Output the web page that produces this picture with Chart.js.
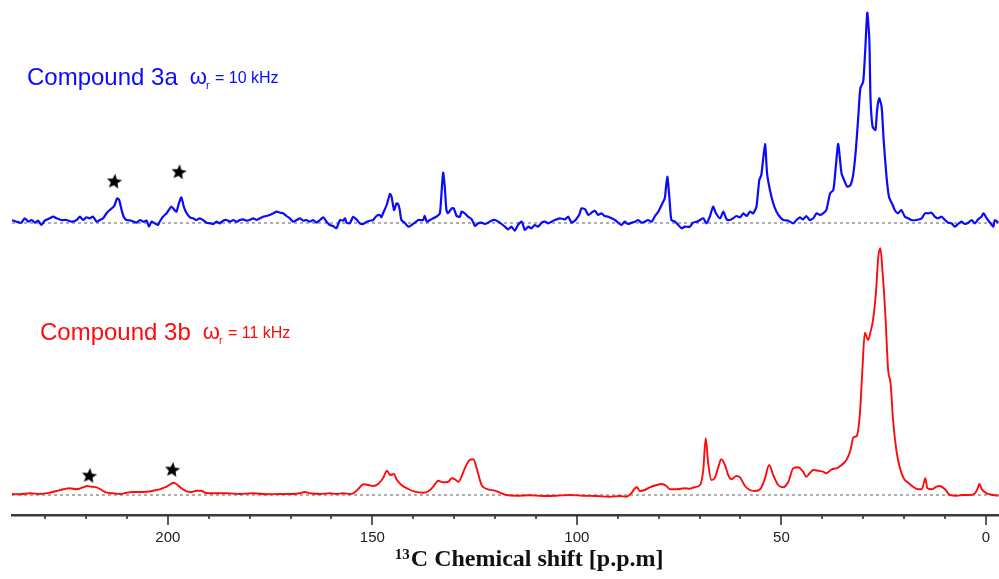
<!DOCTYPE html>
<html>
<head>
<meta charset="utf-8">
<title>13C CP-MAS spectra</title>
<script src="https://cdn.jsdelivr.net/npm/chart.js@4.4.1/dist/chart.umd.min.js"></script>
<style>
    html, body { margin: 0; padding: 0; background: #ffffff; }
    #spectra { display: block; }
</style>
</head>
<body>
<canvas id="spectra" width="999" height="579"></canvas>
<script>
// chemical shift range shown on the axis (ppm, drawn high -> low)
const shiftMin = -3.2;
const shiftMax = 238.1;
const labelledShifts = [200, 150, 100, 50, 0];

// [shift ppm, intensity a.u.] for compound 3a, spinning at 10 kHz
const spectrum3a = [
    [238.2, 3], [237.0, 1.3], [235.8, 0.3], [235.0, 4.7], [234.1, 1.3], [233.3, 3], [232.5, 0.3], [231.7, 2.3],
    [230.9, -2], [230.1, 2.3], [228.9, 4.7], [228.0, 6.3], [227.2, 4.7], [226.0, 3], [224.8, 3], [223.5, 1.3],
    [222.3, 3], [221.5, 6.3], [220.7, 3], [219.9, 5.7], [219.1, 4.7], [218.3, 6.3], [217.4, 1.3], [216.6, 3],
    [215.8, 4.7], [215.0, 9.7], [214.2, 13], [213.4, 15.7], [213.0, 18], [212.4, 24.7], [211.9, 23], [211.3, 13],
    [210.8, 6.3], [210.1, 3], [208.9, 2.3], [207.7, 0.3], [206.8, 3], [206.0, 1.3], [205.2, 2.3], [204.6, -3.7],
    [204.0, 1.3], [203.2, -0.3], [202.4, -2], [202.0, 1.3], [201.2, 6.3], [200.3, 9.7], [199.5, 14.7], [199.1, 16.3],
    [198.5, 13.7], [197.9, 11.3], [197.3, 19.7], [196.7, 25.7], [196.1, 16.3], [195.4, 9.7], [194.6, 5.7], [193.8, 4.7],
    [193.0, 3], [192.2, 4.7], [191.4, 3], [190.5, 0.3], [189.7, -0.3], [188.9, -1], [188.1, 1.3], [187.3, -0.3],
    [186.5, 2.3], [185.7, 3], [184.8, 1.3], [184.0, 3], [183.2, 1.3], [182.4, 3], [181.6, 3.7], [180.8, 2.3],
    [180.0, 3], [179.1, 4.7], [178.3, 3], [177.5, 4.7], [176.7, 6.3], [175.9, 7], [175.1, 8], [174.2, 9.7],
    [173.4, 11.3], [172.6, 10.3], [171.8, 9.7], [171.0, 7], [170.2, 4.7], [169.4, 1.3], [168.5, 3], [167.7, 4.7],
    [166.9, 2.3], [166.1, 3], [165.3, 1.3], [164.5, 3], [163.7, 0.3], [162.8, 3], [162.0, 5.7], [161.2, 1.3],
    [160.4, -2], [159.6, -3], [158.8, -5.3], [157.9, 3], [157.1, 2.3], [156.7, 4.7], [156.3, 0.3], [155.5, -0.3],
    [154.7, 6.3], [153.9, 3.7], [153.1, -0.3], [152.2, -1], [151.4, 1.3], [150.6, 2.3], [149.8, 3], [149.0, 7],
    [148.2, 8], [147.8, 5.7], [147.4, 9.7], [146.5, 18], [145.7, 29], [145.3, 26.3], [144.7, 13], [144.1, 19.7],
    [143.7, 19], [143.3, 13], [142.9, 3], [142.1, 0.3], [141.2, -3.7], [140.4, -2], [139.6, 0.3], [138.8, 3],
    [137.6, 3], [137.2, 7], [136.7, 1.3], [135.9, 3], [135.1, 4.7], [134.3, 6.3], [133.5, 9.7], [133.1, 29.7],
    [132.7, 50.3], [132.3, 36.3], [131.9, 13], [131.5, 9.7], [130.6, 14.7], [130.1, 14.7], [129.4, 7], [128.6, 6.3],
    [128.2, 11.3], [127.4, 9.7], [126.6, 6.3], [125.7, 3.7], [124.9, -3], [124.1, -0.3], [123.3, 0.3], [122.5, -1],
    [121.7, 0.3], [120.9, 2.3], [120.0, 3], [119.2, 1.3], [118.4, -1], [117.6, -3.7], [116.8, -6.3], [116.0, -3.7],
    [115.2, -7.7], [114.4, -2], [113.5, 1.3], [112.7, -7], [111.9, -3.7], [111.1, -5.3], [110.3, -2], [109.5, -3.7],
    [108.6, 0.3], [107.8, 1.3], [107.0, -0.3], [106.2, 1.3], [105.4, 3], [104.2, 4.7], [102.9, 3.7], [102.1, 6.3],
    [101.3, 0.3], [100.5, 2.3], [99.7, 6.3], [99.3, 9.7], [98.9, 14.7], [98.0, 13.7], [97.2, 8], [96.4, 10.3],
    [95.6, 12.3], [94.8, 8], [94.0, 9.7], [93.2, 7], [92.3, 6.3], [91.5, 4.7], [90.7, 3], [89.9, 0.3],
    [89.1, -2], [88.3, 1.3], [87.5, -1], [86.6, 0.3], [85.8, 1.3], [85.0, 3], [84.2, 0.3], [83.4, 1.3],
    [82.6, 3], [81.7, 1.3], [80.9, 7], [80.1, 11.3], [78.9, 21.3], [78.5, 24.7], [77.9, 46.3], [77.4, 26.3],
    [76.9, 3], [76.0, 1.3], [75.2, -2], [74.4, -5.3], [73.6, -3.7], [72.4, -3.7], [71.6, 0.3], [70.7, 1.3],
    [69.9, 3], [69.1, 4.7], [68.3, -0.3], [67.5, 6.3], [66.7, 16.3], [66.0, 9.7], [65.0, 4.7], [64.2, 11.3],
    [63.4, 3.7], [62.6, 3], [61.8, 4.7], [61.0, 7], [60.1, 5.7], [59.3, 9.7], [58.5, 7], [57.7, 11.3],
    [56.9, 9.7], [56.1, 16.3], [55.4, 43], [54.9, 48], [54.0, 79], [53.5, 49.7], [52.8, 33], [52.0, 19.7],
    [51.2, 11.3], [50.4, 6.3], [49.5, 3], [48.3, 2.3], [47.1, -0.3], [46.3, 3], [45.5, 5.7], [44.7, 3.7],
    [43.9, 7], [43.1, 3], [42.2, 4.7], [41.4, 9.7], [40.6, 8], [39.8, 9.7], [39.0, 13], [38.1, 29.7],
    [37.3, 33], [36.7, 56.3], [36.1, 79], [35.3, 49.7], [34.5, 41.3], [33.9, 36.3], [33.1, 38], [32.4, 49.7],
    [31.8, 73], [31.2, 106.3], [30.7, 134.7], [30.0, 141.3], [29.5, 173], [29.0, 210.3], [28.5, 183], [28.2, 123],
    [27.7, 96.3], [27.0, 93], [26.6, 113], [26.1, 124.7], [25.5, 116.3], [25.0, 83], [24.3, 46.3], [23.7, 26.3],
    [22.8, 18], [22.3, 13], [21.5, 9.7], [20.7, 13], [19.8, 6.3], [19.0, 4.7], [18.2, 3], [17.0, 3],
    [15.7, 4.7], [14.9, 9.7], [14.1, 9.7], [13.3, 10.3], [12.5, 6.3], [11.7, 4.7], [10.8, 6.3], [10.0, 3],
    [9.2, 0.3], [8.4, -0.3], [7.6, -3.7], [6.8, -1], [6.0, 1.3], [5.1, -1], [4.3, 0.3], [3.5, 3],
    [2.7, -0.3], [1.9, 3.7], [1.1, 6.3], [0.6, 9.7], [-0.2, 4.7], [-1.0, 0.3], [-1.8, -3.7], [-2.2, 3],
    [-3.0, 0.3]
];

// [shift ppm, intensity a.u.] for compound 3b, spinning at 11 kHz
const spectrum3b = [
    [238.2, 1], [236.2, 0.7], [233.7, 1.7], [231.3, 1], [228.9, 2.3], [227.2, 4], [225.6, 5.7], [224.0, 6.7],
    [222.3, 5.7], [220.7, 7.7], [219.7, 9], [218.7, 8.3], [217.4, 7.7], [216.2, 5], [215.0, 2.3], [213.4, 1.7],
    [211.7, 1], [210.1, 2.3], [208.5, 3], [206.8, 3], [205.2, 3.3], [203.6, 4.3], [202.0, 5.7], [200.3, 8.3],
    [199.4, 10.7], [198.7, 12.3], [197.9, 11], [196.7, 6.7], [195.4, 3.7], [194.2, 3], [193.0, 4.3], [191.8, 4.3],
    [190.9, 2.3], [188.9, 1.7], [185.7, 1.7], [182.4, 1], [179.1, 1.7], [175.9, 0.7], [172.6, 1], [169.4, 1],
    [167.7, 1.7], [166.5, 3], [165.3, 1.7], [162.8, 1], [160.4, 1.7], [158.8, 1], [157.1, 1.7], [155.5, 1],
    [154.7, 1.7], [153.5, 5.7], [152.2, 10.7], [151.0, 10], [149.8, 9], [148.6, 11], [147.4, 16.7], [146.4, 24.3],
    [145.7, 20], [144.7, 21], [144.1, 15.7], [142.9, 10], [141.2, 6], [139.6, 3.3], [137.6, 2.3], [136.3, 3.7],
    [135.1, 8.3], [133.9, 14.3], [132.7, 12.7], [131.5, 13], [130.6, 16.7], [129.8, 15.7], [129.0, 13.3], [128.2, 18.3],
    [127.4, 26.7], [126.2, 35], [125.3, 35.7], [124.5, 26.7], [123.3, 10], [121.7, 5.7], [120.0, 4.3], [118.8, 2.3],
    [117.2, 0], [114.8, -0.7], [111.5, -0.3], [108.3, -1], [105.0, -0.7], [101.7, 0], [98.5, -0.7], [95.2, -1],
    [92.0, -1.7], [89.5, -1], [87.9, -1.7], [86.7, 1.7], [85.8, 6.7], [85.3, 7.7], [84.6, 4], [83.4, 5],
    [82.2, 7.7], [80.5, 10], [79.3, 11], [78.1, 9], [77.3, 5.7], [75.6, 5.7], [73.6, 6.7], [72.4, 6.3],
    [71.2, 7.7], [69.9, 10], [69.1, 25], [68.5, 56.7], [67.9, 31.7], [67.1, 15], [66.3, 16.7], [65.5, 26.7],
    [64.7, 35.7], [63.8, 30], [63.0, 20], [62.2, 15.7], [61.0, 19], [60.1, 17.7], [58.9, 9], [57.7, 5],
    [56.5, 4], [55.2, 5.7], [54.0, 16.7], [53.0, 30], [52.0, 20], [50.8, 10], [49.6, 7.7], [48.3, 13.3],
    [47.1, 26.7], [45.9, 27.7], [44.7, 23.3], [43.9, 18.3], [43.1, 21.7], [42.2, 25], [41.0, 24.3], [39.8, 23.3],
    [39.0, 21.7], [37.7, 25.7], [36.5, 26.7], [35.3, 30], [34.1, 35], [33.1, 45], [32.4, 57.7], [31.6, 59],
    [30.8, 81.7], [30.2, 125], [29.6, 162.3], [28.8, 155], [28.2, 163.3], [27.6, 175], [26.9, 201.7], [26.3, 238.3],
    [25.8, 246.7], [25.3, 225], [24.6, 181.7], [23.9, 125], [23.3, 111.7], [22.7, 75], [21.9, 45], [21.1, 28.3],
    [20.1, 16.7], [19.0, 12.3], [17.8, 8.3], [16.6, 5.7], [15.7, 5.7], [15.3, 10], [14.8, 16.7], [14.3, 6.7],
    [13.3, 5.7], [12.1, 8.3], [11.3, 9], [10.0, 5.7], [8.8, 0], [7.2, -0.7], [5.5, 0], [3.9, 0],
    [2.7, 1.7], [2.0, 6.7], [1.6, 11], [1.0, 5.7], [-0.2, 1.7], [-1.8, 0], [-3.0, -0.7]
];

// spinning sidebands, marked with a star above the trace
const sidebands3a = [[213.1, 41.3], [197.3, 50.7]];
const sidebands3b = [[219.2, 19], [198.9, 25]];

const blueColor = '#0a0aff';
const redColor = '#ff0a0a';

function toPoints(pairs) {
    return pairs.map(p => ({ x: p[0], y: p[1] }));
}

function makeStar(size) {
    const c = document.createElement('canvas');
    c.width = size;
    c.height = size;
    const g = c.getContext('2d');
    const r = size / 2;
    g.translate(r, r);
    g.rotate(0.12);
    g.beginPath();
    for (let i = 0; i < 10; i++) {
        const rad = i % 2 === 0 ? r - 0.5 : r * 0.42;
        const a = -Math.PI / 2 + i * Math.PI / 5;
        g.lineTo(Math.cos(a) * rad, Math.sin(a) * rad);
    }
    g.closePath();
    g.fillStyle = '#000000';
    g.fill();
    return c;
}

// minor/major tick marks below the axis line
const axisTicks = {
    id: 'axisTicks',
    afterDraw(chart) {
        const scale = chart.scales.x;
        const ctx = chart.ctx;
        ctx.save();
        ctx.strokeStyle = '#333333';
        ctx.lineWidth = 1.6;
        scale.ticks.forEach(t => {
            if (Math.round(t.value) % 10 !== 0) return;
            const px = Math.round(scale.getPixelForValue(t.value));
            const len = t.value % 50 === 0 ? 10 : 4;
            ctx.beginPath();
            ctx.moveTo(px, scale.top);
            ctx.lineTo(px, scale.top + len);
            ctx.stroke();
        });
        ctx.restore();
    }
};

// axis title with the superscript mass number
const axisTitle = {
    id: 'axisTitle',
    afterDraw(chart) {
        const ctx = chart.ctx;
        const area = chart.chartArea;
        const supFont = 'bold 15px "Liberation Serif", "Times New Roman", serif';
        const mainFont = 'bold 24px "Liberation Serif", "Times New Roman", serif';
        const mainText = 'C Chemical shift [p.p.m]';
        ctx.save();
        ctx.fillStyle = '#111111';
        ctx.textBaseline = 'alphabetic';
        ctx.font = supFont;
        const supW = ctx.measureText('13').width;
        ctx.font = mainFont;
        const mainW = ctx.measureText(mainText).width;
        const cx = area.left + area.width * 0.524;
        const x0 = cx - (supW + 1 + mainW) / 2;
        ctx.font = supFont;
        ctx.fillText('13', x0, area.bottom + 44);
        ctx.font = mainFont;
        ctx.fillText(mainText, x0 + supW + 1, area.bottom + 51);
        ctx.restore();
    }
};

// compound names and spinning rates
function drawCompoundLabel(ctx, name, rate, color, x, y) {
    ctx.fillStyle = color;
    ctx.font = '24px "Liberation Sans", Arial, sans-serif';
    ctx.fillText(name, x, y);
    let px = x + ctx.measureText(name).width + 12;
    ctx.font = '22px "Liberation Sans", Arial, sans-serif';
    ctx.fillText('\u03c9', px, y - 1);
    px += ctx.measureText('\u03c9').width;
    ctx.font = '11px "Liberation Sans", Arial, sans-serif';
    ctx.fillText('r', px - 1, y + 4);
    px += 8;
    ctx.font = '16px "Liberation Sans", Arial, sans-serif';
    ctx.fillText(rate, px, y - 2);
}

const compoundLabels = {
    id: 'compoundLabels',
    afterDraw(chart) {
        const ctx = chart.ctx;
        const area = chart.chartArea;
        ctx.save();
        ctx.textBaseline = 'alphabetic';
        drawCompoundLabel(ctx, 'Compound 3a', '= 10 kHz', blueColor, area.left + 15, area.top + 80);
        drawCompoundLabel(ctx, 'Compound 3b', '= 11 kHz', redColor, area.left + 28, area.top + 335);
        ctx.restore();
    }
};

document.addEventListener('DOMContentLoaded', () => {
    const star = makeStar(17);
    const ctx = document.getElementById('spectra').getContext('2d');

    const baseline = (axis) => ({
        data: [{ x: shiftMax, y: 0 }, { x: shiftMin, y: 0 }],
        yAxisID: axis,
        borderColor: '#8c8c8c',
        borderWidth: 1.4,
        borderDash: [3, 3],
        pointRadius: 0,
        order: 3
    });

    new Chart(ctx, {
        type: 'line',
        data: {
            datasets: [
                {
                    label: 'sidebands 3a',
                    data: toPoints(sidebands3a),
                    yAxisID: 'yTop',
                    showLine: false,
                    pointStyle: star,
                    order: 0
                },
                {
                    label: 'sidebands 3b',
                    data: toPoints(sidebands3b),
                    yAxisID: 'yBottom',
                    showLine: false,
                    pointStyle: star,
                    order: 0
                },
                {
                    label: 'Compound 3a',
                    data: toPoints(spectrum3a),
                    yAxisID: 'yTop',
                    borderColor: blueColor,
                    borderWidth: 2.2,
                    pointRadius: 0,
                    tension: 0.2,
                    order: 1
                },
                {
                    label: 'Compound 3b',
                    data: toPoints(spectrum3b),
                    yAxisID: 'yBottom',
                    borderColor: redColor,
                    borderWidth: 1.9,
                    pointRadius: 0,
                    tension: 0.3,
                    cubicInterpolationMode: 'monotone',
                    order: 1
                },
                baseline('yTop'),
                baseline('yBottom')
            ]
        },
        options: {
            responsive: false,
            animation: false,
            devicePixelRatio: 1,
            layout: {
                autoPadding: false,
                padding: { top: 5, left: 12, right: 0, bottom: 0 }
            },
            plugins: {
                legend: { display: false },
                tooltip: { enabled: false }
            },
            scales: {
                x: {
                    type: 'linear',
                    reverse: true,
                    min: shiftMin,
                    max: shiftMax,
                    afterFit: scale => {
                        scale.height = 64;
                        scale.paddingLeft = 0;
                        scale.paddingRight = 0;
                    },
                    grid: { display: false, drawTicks: false, tickLength: 0 },
                    border: { display: true, color: '#3c3c3c', width: 2.5 },
                    ticks: {
                        stepSize: 10,
                        includeBounds: false,
                        autoSkip: false,
                        maxRotation: 0,
                        padding: 14,
                        color: '#222222',
                        font: { family: '"Liberation Sans", Arial, sans-serif', size: 15 },
                        callback: v => labelledShifts.includes(v) ? String(v) : ''
                    }
                },
                yTop: {
                    type: 'linear',
                    display: false,
                    min: -292,
                    max: 218
                },
                yBottom: {
                    type: 'linear',
                    display: false,
                    min: -20,
                    max: 490
                }
            }
        },
        plugins: [axisTicks, axisTitle, compoundLabels]
    });
});
</script>
</body>
</html>
